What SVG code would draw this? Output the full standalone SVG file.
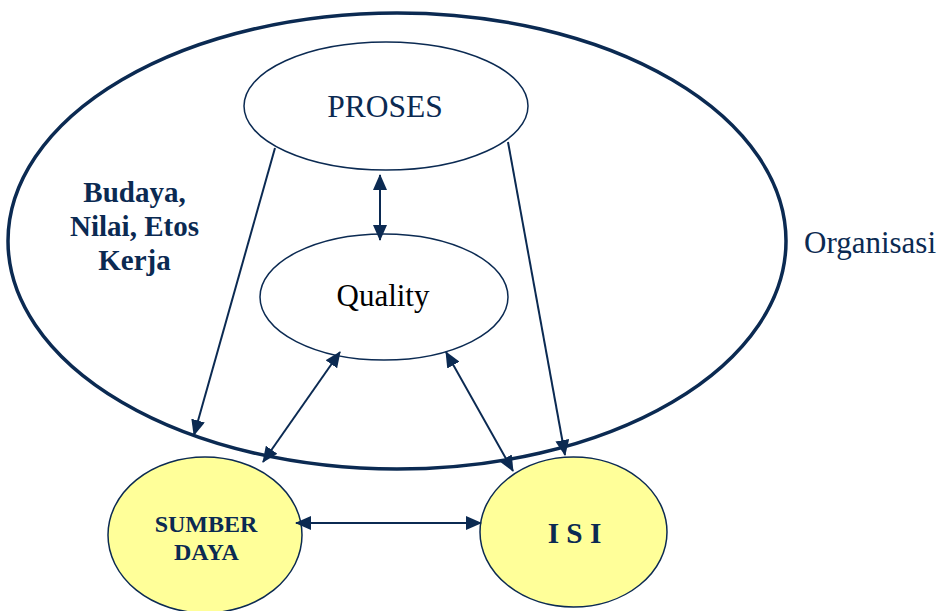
<svg xmlns="http://www.w3.org/2000/svg" width="942" height="611" viewBox="0 0 942 611">
<defs>
<marker id="ah" viewBox="0 0 16 14" refX="15" refY="7" markerWidth="16" markerHeight="14" markerUnits="userSpaceOnUse" orient="auto-start-reverse">
<path d="M0,0 L16,7 L0,14 z" fill="#0b2a52"/>
</marker>
</defs>
<rect width="942" height="611" fill="#fff"/>
<g id="organisasi">
<ellipse cx="397" cy="241" rx="389" ry="228" fill="none" stroke="#0b2a52" stroke-width="3.5"/>
<text x="804" y="253" font-size="31" font-family="Liberation Serif" fill="#0b2a52">Organisasi</text>
</g>
<g id="budaya">
<text x="134.5" y="202" font-size="29" font-family="Liberation Serif" font-weight="bold" fill="#0b2a52" text-anchor="middle">Budaya,</text>
<text x="134.5" y="236" font-size="29" font-family="Liberation Serif" font-weight="bold" fill="#0b2a52" text-anchor="middle">Nilai, Etos</text>
<text x="134.5" y="270" font-size="29" font-family="Liberation Serif" font-weight="bold" fill="#0b2a52" text-anchor="middle">Kerja</text>
</g>
<g id="proses">
<ellipse cx="386" cy="106" rx="142" ry="64" fill="#fff" stroke="#0b2a52" stroke-width="1.5"/>
<text x="385" y="117" font-size="31.5" font-family="Liberation Serif" fill="#0b2a52" text-anchor="middle">PROSES</text>
</g>
<g id="quality">
<ellipse cx="384" cy="297" rx="124" ry="63" fill="#fff" stroke="#0b2a52" stroke-width="1.5"/>
<text x="383" y="306" font-size="31" font-family="Liberation Serif" fill="#000" text-anchor="middle">Quality</text>
</g>
<g id="sumber-daya">
<ellipse cx="205" cy="535" rx="97" ry="78" fill="#ffff99" stroke="#0b2a52" stroke-width="1.5"/>
<text x="206" y="532" font-size="24" font-family="Liberation Serif" font-weight="bold" fill="#0b2a52" text-anchor="middle">SUMBER</text>
<text x="206.5" y="560" font-size="24" font-family="Liberation Serif" font-weight="bold" fill="#0b2a52" text-anchor="middle">DAYA</text>
</g>
<g id="isi">
<ellipse cx="573.5" cy="532" rx="93.5" ry="75" fill="#ffff99" stroke="#0b2a52" stroke-width="1.5"/>
<text x="574.5" y="543" font-size="29.3" font-family="Liberation Serif" font-weight="bold" fill="#0b2a52" text-anchor="middle">I S I</text>
</g>
<g id="connectors" stroke="#0b2a52" stroke-width="2" fill="none">
<line x1="275" y1="148" x2="194" y2="435" marker-end="url(#ah)"/>
<line x1="508" y1="142" x2="565" y2="455" marker-end="url(#ah)"/>
<line x1="380" y1="175" x2="380" y2="240" marker-start="url(#ah)" marker-end="url(#ah)"/>
<line x1="340" y1="352" x2="263" y2="462" marker-start="url(#ah)" marker-end="url(#ah)"/>
<line x1="446" y1="352" x2="513" y2="471" marker-start="url(#ah)" marker-end="url(#ah)"/>
<line x1="296" y1="523" x2="481" y2="523" marker-start="url(#ah)" marker-end="url(#ah)"/>
</g>
</svg>
